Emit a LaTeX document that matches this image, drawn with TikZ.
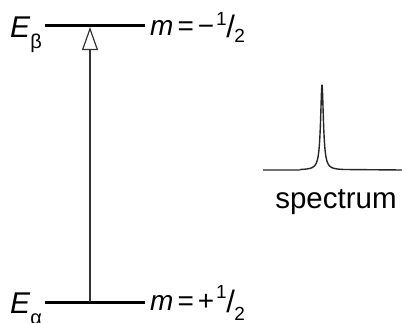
\documentclass[tikz,border=0pt]{standalone}
\usepackage{fontspec}
\setmainfont{Liberation Sans}
\usetikzlibrary{arrows.meta}
\newcommand{\halffrac}[2]{\kern2pt{\fontsize{19}{19}\selectfont\raisebox{#1}{1}}\kern-0.5pt{\fontsize{31}{31}\selectfont\raisebox{-2pt}{/}}\kern-0.5pt{\fontsize{19}{19}\selectfont\raisebox{#2}{2}}}
\newcommand{\sub}[1]{{\fontsize{20}{20}\selectfont\raisebox{-11pt}{#1}}}
\tikzset{
  level/.style={line width=3pt},
  trans/.style={line width=1.5pt, draw=black!80, -{Triangle[open, length=23pt, width=16pt, line width=1.2pt]}},
  lbl/.style={inner sep=0pt, font=\fontsize{28}{30}\selectfont},
  elbl/.style={inner sep=0pt, font=\fontsize{30}{32}\selectfont},
  slbl/.style={inner sep=0pt, font=\fontsize{29.5}{32}\selectfont},
  spec/.style={line width=1.4pt, draw=black!85, line join=round}
}
\begin{document}
\begin{tikzpicture}[x=1pt, y=-1pt]
\useasboundingbox (0,0) rectangle (402,322);
% levels
\coordinate (tl) at (45,25);
\coordinate (tr) at (145,25);
\coordinate (bl) at (45,302);
\coordinate (br) at (145,302);
\draw[level] (tl) -- (tr);
\draw[level] (bl) -- (br);
% transition arrow
\coordinate (abot) at (90,302);
\coordinate (atop) at (90,27);
\draw[trans] (abot) -- (atop);
% labels
\node[elbl, anchor=base west] (Eb) at (10,37) {\textit{E}\sub{β}};
\node[elbl, anchor=base west] (Ea) at (10,313) {\textit{E}\sub{α}};
\node[lbl, anchor=base west] (mb) at (150,35) {\textit{m}\kern4pt=\kern4pt−\halffrac{10pt}{-7pt}};
\node[lbl, anchor=base west] (ma) at (150,310) {\textit{m}\kern4pt=\kern4pt+\halffrac{12pt}{-10pt}};
% spectrum
\coordinate (s0) at (263,170);
\coordinate (s1) at (402,170);
\draw[spec] (s0) -- (300,170) plot[domain=300:344, samples=221, smooth] (\x, {170-85/(1+((\x-322)/1.7)^2)}) -- (s1);
\node[slbl, anchor=base] (sp) at (336,208) {spectrum};
\end{tikzpicture}
\end{document}
